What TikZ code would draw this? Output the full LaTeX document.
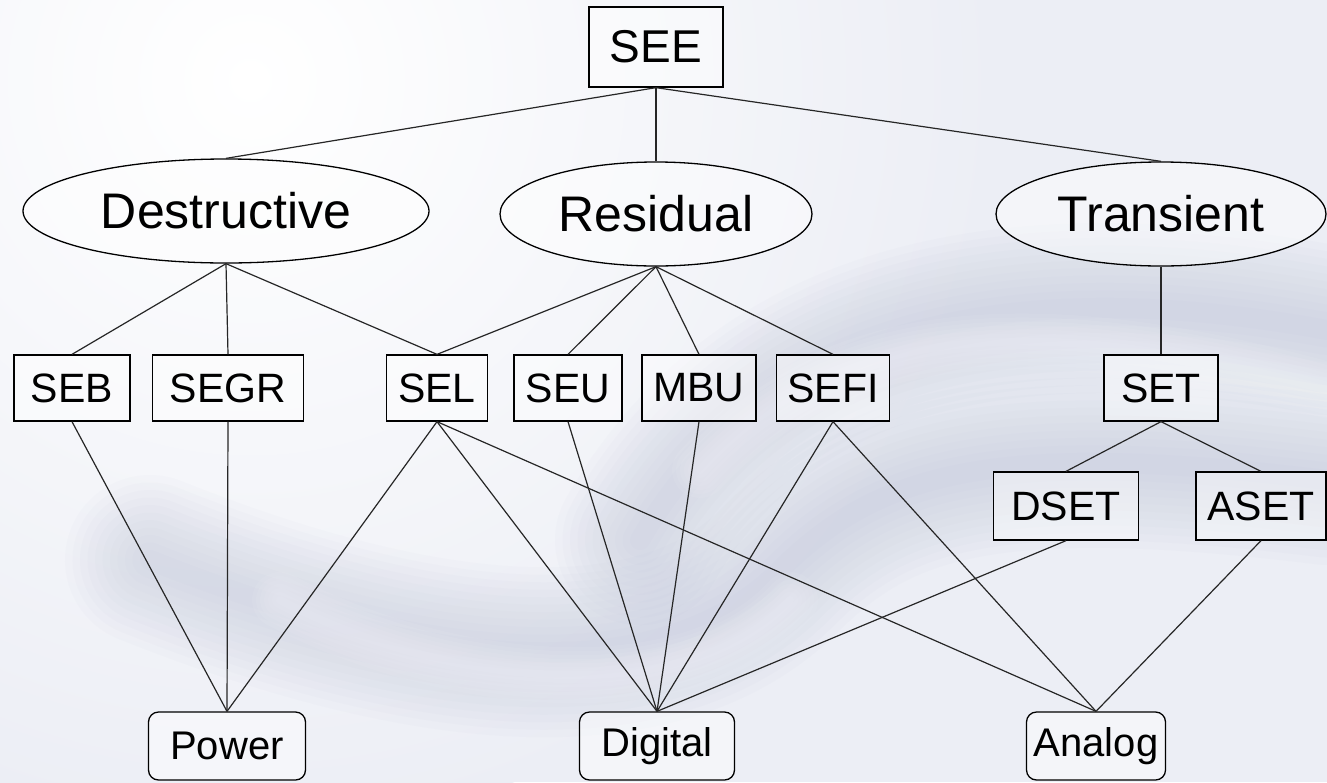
\documentclass[tikz,border=0pt]{standalone}
\usepackage{fontspec}
\setmainfont{Liberation Sans}
\usetikzlibrary{shapes.geometric}
\definecolor{bgbase}{HTML}{ECEEF5}
\definecolor{swirl}{HTML}{8C93C0}
\begin{document}
\begin{tikzpicture}[x=1pt,y=-1pt,
  every node/.style={inner sep=0pt, text=black},
  sqbox/.style={draw=black, line width=1.3pt, fill=white, fill opacity=0.45, text opacity=1, minimum height=66pt, font=\fontsize{41}{45}\selectfont},
  ellbox/.style={ellipse, draw=black, line width=1.3pt, fill=white, fill opacity=0.45, text opacity=1, minimum height=104pt, font=\fontsize{50}{55}\selectfont},
  rbox/.style={draw=black, line width=1.3pt, rounded corners=10pt, fill=white, fill opacity=0.45, text opacity=1, minimum height=68pt, font=\fontsize{40}{44}\selectfont},
  link/.style={draw=black!85, line width=1.2pt}]
\useasboundingbox (0,0) rectangle (1327,782);
% background
\begin{scope}
\clip (0,0) rectangle (1327,782);
\fill[bgbase] (0,0) rectangle (1327,782);
\shade[inner color=white, outer color=bgbase] (250,80) circle (750);
\begin{scope}[line cap=round]
\foreach \w in {20,35,...,170}{
  \draw[line width=\w pt, color=swirl, opacity=0.025] (150,560) .. controls (400,660) and (650,700) .. (780,570) .. controls (880,470) and (1000,440) .. (1327,480);
  \draw[line width=\w pt, color=swirl, opacity=0.025] (640,540) .. controls (760,330) and (1000,270) .. (1327,330);
}
\foreach \w in {8,16,...,60}{
  \draw[line width=\w pt, color=white, opacity=0.06] (700,470) .. controls (820,340) and (1000,300) .. (1327,390);
  \draw[line width=\w pt, color=white, opacity=0.06] (280,600) .. controls (450,690) and (690,710) .. (790,600);
}
\end{scope}
\end{scope}
% nodes
\node[sqbox, minimum width=134pt, minimum height=80pt, font=\fontsize{46}{50}\selectfont] (see) at (656,47) {SEE};
\node[ellbox, minimum width=406pt] (des) at (226,211) {Destructive};
\node[ellbox, minimum width=312pt] (res) at (656,214) {Residual};
\node[ellbox, minimum width=330pt] (tra) at (1161,214) {Transient};
\node[sqbox, minimum width=116pt] (seb) at (72,388) {SEB};
\node[sqbox, minimum width=151pt] (segr) at (228,388) {SEGR};
\node[sqbox, minimum width=101pt] (sel) at (437,388) {SEL};
\node[sqbox, minimum width=108pt] (seu) at (568,388) {SEU};
\node[sqbox, minimum width=114pt] (mbu) at (699,388) {MBU};
\node[sqbox, minimum width=113pt] (sefi) at (833,388) {SEFI};
\node[sqbox, minimum width=114pt] (set) at (1161,388) {SET};
\node[sqbox, minimum width=145pt, minimum height=68pt] (dset) at (1066,506) {DSET};
\node[sqbox, minimum width=130pt, minimum height=68pt] (aset) at (1261,506) {ASET};
\node[rbox, minimum width=157pt] (pow) at (227,746) {Power};
\node[rbox, minimum width=155pt] (dig) at (657,746) {Digital};
\node[rbox, minimum width=139pt] (ana) at (1096,746) {Analog};
% connectors
\path[link] (see.south) -- (des.north);
\path[link] (see.south) -- (res.north);
\path[link] (see.south) -- (tra.north);
\path[link] (des.south) -- (seb.north);
\path[link] (des.south) -- (segr.north);
\path[link] (des.south) -- (sel.north);
\path[link] (res.south) -- (sel.north);
\path[link] (res.south) -- (seu.north);
\path[link] (res.south) -- (mbu.north);
\path[link] (res.south) -- (sefi.north);
\path[link] (tra.south) -- (set.north);
\path[link] (set.south) -- (dset.north);
\path[link] (set.south) -- (aset.north);
\path[link] (seb.south) -- (pow.north);
\path[link] (segr.south) -- (pow.north);
\path[link] (sel.south) -- (pow.north);
\path[link] (sel.south) -- (dig.north);
\path[link] (sel.south) -- (ana.north);
\path[link] (seu.south) -- (dig.north);
\path[link] (mbu.south) -- (dig.north);
\path[link] (sefi.south) -- (dig.north);
\path[link] (sefi.south) -- (ana.north);
\path[link] (dset.south) -- (dig.north);
\path[link] (aset.south) -- (ana.north);
\end{tikzpicture}
\end{document}
